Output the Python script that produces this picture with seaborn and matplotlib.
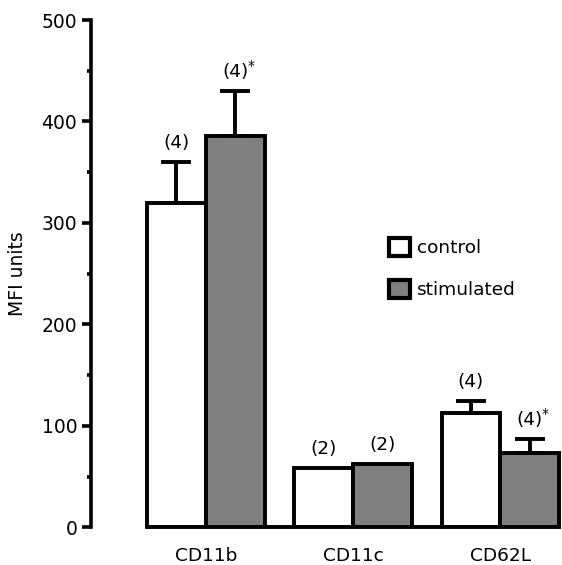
import pandas as pd
import matplotlib.pyplot as plt
import seaborn as sns
from matplotlib.patches import Patch
from matplotlib.ticker import MultipleLocator

# style
sns.set_style('ticks')
plt.rcParams['font.family'] = ['DejaVu Sans']
for key in ['text.color', 'axes.labelcolor', 'xtick.color', 'ytick.color', 'axes.edgecolor']:
    plt.rcParams[key] = 'black'

# data
markers = ['CD11b', 'CD11c', 'CD62L']
conditions = ['control', 'stimulated']
control_mfi = [320, 59, 113]
stimulated_mfi = [386, 63, 73]
control_err = [40, 0, 12]
stimulated_err = [44, 0, 14]
control_n = ['(4)', '(2)', '(4)']
stimulated_n = ['(4)', '(2)', '(4)']
stimulated_star = [True, False, True]

df = pd.DataFrame({
    'marker': markers * 2,
    'condition': ['control'] * 3 + ['stimulated'] * 3,
    'mfi': control_mfi + stimulated_mfi,
})
errs = control_err + stimulated_err
labels = control_n + stimulated_n
stars = [False] * 3 + stimulated_star

colors = ['white', '#808080']
lw = 2.8

fig = plt.figure(figsize=(5.62, 5.65), dpi=100)
ax = fig.add_axes([0.162, 0.0664, 0.838, 0.8982])

sns.barplot(data=df, x='marker', y='mfi', hue='condition', hue_order=conditions,
            order=markers, palette=colors, saturation=1, edgecolor='black',
            linewidth=lw, errorbar=None, legend=False, width=0.8, ax=ax)

# upper error bars and n labels
for bar, err, lab, star in zip(ax.patches, errs, labels, stars):
    xc = bar.get_x() + bar.get_width() / 2
    top = bar.get_height()
    if err > 0:
        ax.errorbar(xc, top, yerr=[[0], [err]], fmt='none', ecolor='black',
                    elinewidth=lw, capsize=11, capthick=lw, zorder=3)
    ytxt = top + err
    ax.annotate(lab, (xc, ytxt), xytext=(0, 7), textcoords='offset points',
                ha='center', va='bottom', fontsize=13.3)
    if star:
        ax.annotate('*', (xc, ytxt), xytext=(8.5, 13), textcoords='offset points',
                    ha='left', va='bottom', fontsize=10)

ax.set_xlim(-0.78, 2.418)
ax.set_ylim(0, 500)
ax.yaxis.set_major_locator(MultipleLocator(100))
ax.yaxis.set_minor_locator(MultipleLocator(50))
ax.tick_params(axis='y', which='major', length=6.5, width=2.6, pad=3.5,
               labelsize=13.5, direction='out')
ax.tick_params(axis='y', which='minor', length=3, width=2.6, direction='out')
ax.tick_params(axis='x', length=0, pad=14, labelsize=13.3)

sns.despine(ax=ax)
ax.spines['left'].set_linewidth(2.6)
ax.spines['bottom'].set_linewidth(lw)
ax.spines['bottom'].set_bounds(-0.4, 2.4)

ax.set_xlabel('')
ax.set_ylabel('MFI units', fontsize=13.5)
ax.yaxis.set_label_coords(-0.135, 0.5)

handles = [Patch(facecolor=c, edgecolor='black', linewidth=3, label=l)
           for c, l in zip(colors, conditions)]
fig.legend(handles=handles, loc='center left', bbox_to_anchor=(0.692, 0.5248),
           frameon=False, fontsize=13.3, handlelength=1.15, handleheight=1.15,
           handletextpad=0.35, labelspacing=1.2, borderpad=0, borderaxespad=0)

plt.savefig('out.png', dpi=100)
plt.close()
